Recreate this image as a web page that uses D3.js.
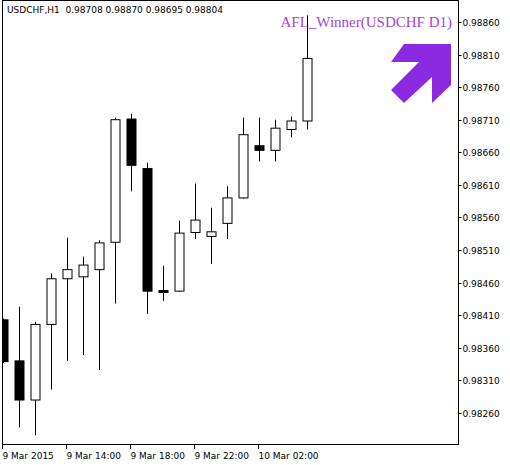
<!DOCTYPE html>
<html><head><meta charset="utf-8">
<script src="https://cdn.jsdelivr.net/npm/d3@7"></script>
<style>body{margin:0;background:#fff}svg{display:block}text{font-family:"DejaVu Sans",sans-serif}</style>
</head><body><svg id="chart" width="510" height="465"></svg>
<script>
// hourly candles, 9 Mar 2015 10:00 .. 10 Mar 05:00
var opens  = [0.98403,0.98340,0.98280,0.98396,0.98466,0.98469,0.98480,0.98522,0.98711,0.98635,0.98448,0.98447,0.98537,0.98531,0.98551,0.98590,0.98670,0.98663,0.98695,0.98708];
var highs  = [0.98405,0.98423,0.98400,0.98474,0.98529,0.98500,0.98525,0.98713,0.98719,0.98644,0.98486,0.98555,0.98612,0.98575,0.98608,0.98713,0.98713,0.98710,0.98715,0.98870];
var lows   = [0.98337,0.98238,0.98226,0.98296,0.98340,0.98349,0.98326,0.98428,0.98600,0.98412,0.98432,0.98446,0.98527,0.98489,0.98527,0.98589,0.98646,0.98646,0.98683,0.98695];
var closes = [0.98339,0.98280,0.98396,0.98466,0.98480,0.98487,0.98521,0.98710,0.98640,0.98447,0.98446,0.98536,0.98556,0.98538,0.98590,0.98687,0.98663,0.98697,0.98708,0.98804];
var priceTicks = [0.98260,0.98310,0.98360,0.98410,0.98460,0.98510,0.98560,0.98610,0.98660,0.98710,0.98760,0.98810,0.98860];
var timeLabels = ["9 Mar 2015","9 Mar 14:00","9 Mar 18:00","9 Mar 22:00","10 Mar 02:00"];
var timeIdx = [0,4,8,12,16];

var svg = d3.select('#chart');
var L = 2, R = 458, T = 3, B = 445;

var x = d3.scaleLinear().domain([0, 28.35]).range([2.7, 2.7 + 28.35*16]);
var y = d3.scaleLinear().domain([0.98211, 0.98889]).range([B, T]);

svg.append('rect').attr('x', L+0.5).attr('y', T-2.5).attr('width', R-L).attr('height', B-T+2)
   .attr('fill','none').attr('stroke','#000');

// price axis
var yAxis = svg.append('g').attr('transform','translate('+(R+0.5)+',0)');
priceTicks.forEach(function(p){
  var yy = Math.round(y(p)) + 0.5;
  yAxis.append('line').attr('x1',0).attr('x2',3).attr('y1',yy).attr('y2',yy).attr('stroke','#000');
  yAxis.append('text').attr('x',4).attr('y',yy+3.5).attr('font-size',9).text(p.toFixed(5));
});

// time axis
timeIdx.forEach(function(i, k){
  var xx = Math.round(x(i)) - 0.5;
  svg.append('line').attr('x1',xx).attr('x2',xx).attr('y1',B).attr('y2',B+4).attr('stroke','#000');
  svg.append('text').attr('x',xx).attr('y',B+14).attr('font-size',9).text(timeLabels[k]);
});

svg.append('text').attr('x',452).attr('y',27).attr('text-anchor','end')
   .style('font-family','"Liberation Serif",serif').attr('font-size',15).attr('fill','#a544d6')
   .text('AFL_Winner(USDCHF D1)');

var plot = svg.append('g');
svg.append('clipPath').attr('id','clip').append('rect').attr('x',L+1).attr('y',T).attr('width',R-L-1).attr('height',B-T);
plot.attr('clip-path','url(#clip)');

opens.forEach(function(o, i){
  var c = closes[i], cx = Math.round(x(i)) + 0.5;
  plot.append('line').attr('x1',cx).attr('x2',cx).attr('y1',y(highs[i])).attr('y2',y(lows[i])).attr('stroke','#000');
  var top = y(Math.max(o,c)), bot = y(Math.min(o,c));
  plot.append('rect').attr('x',cx-4.5).attr('y',top).attr('width',9).attr('height',Math.max(bot-top,2))
      .attr('fill', c < o ? '#000' : '#fff').attr('stroke','#000');
});

svg.append('text').attr('x',7).attr('y',13).attr('font-size',9).attr('xml:space','preserve')
   .text('USDCHF,H1  0.98708 0.98870 0.98695 0.98804');

var arrow = [[404,44],[451,44],[451,85],[432,103],[432,77],[404,103],[391,90],[419,62],[391,62]];
svg.append('polygon').attr('points', arrow.map(function(p){return p.join(',');}).join(' '))
   .attr('fill','#8a2be2');
</script></body></html>
